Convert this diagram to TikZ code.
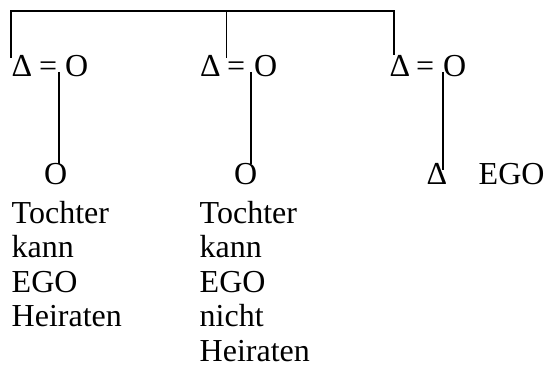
\documentclass[tikz,border=0pt]{standalone}
\usepackage{fontspec}
\setmainfont{Liberation Serif}
\usepackage{tikz}

\begin{document}
\begin{tikzpicture}[x=1pt,y=-1pt,
	sym/.style={inner sep=0pt,anchor=base west,font=\fontsize{32}{34.5}\selectfont},
	txt/.style={sym,anchor=north west,align=left},
	kin/.style={line width=1.2pt}]

	\useasboundingbox (0,0) rectangle (544,371);

	\node[sym] (m1) at (11.5,76.5) {Δ};
	\node[sym] (q1) at (39,76.5) {=};
	\node[sym] (f1) at (65,76.5) {O};
	\node[sym] (m2) at (200,76.5) {Δ};
	\node[sym] (q2) at (227,76.5) {=};
	\node[sym] (f2) at (254,76.5) {O};
	\node[sym] (m3) at (389.5,76.5) {Δ};
	\node[sym] (q3) at (416,76.5) {=};
	\node[sym] (f3) at (443,76.5) {O};

	\node[sym] (c1) at (44,185) {O};
	\node[sym] (c2) at (234,185) {O};
	\node[sym] (c3) at (426.5,185) {Δ};
	\node[sym] (ego) at (478.5,185) {EGO};

	\node[txt] (t1) at (11.5,201) {Tochter\\kann\\EGO\\Heiraten};
	\node[txt] (t2) at (199.5,201) {Tochter\\kann\\EGO\\nicht\\Heiraten};

	\coordinate (top) at (0,11);
	\coordinate (s1) at (11,58);
	\coordinate (s2) at (226.7,58);
	\coordinate (s3) at (394,55);
	\draw[kin] (s1) -- (s1 |- top) -- (s3 |- top) -- (s3);
	\draw[kin] (s2) -- (s2 |- top);

	\coordinate (d1) at (59,72);
	\coordinate (d2) at (251,72);
	\coordinate (d3) at (443,72);
	\coordinate (e3) at (443,170);
	\draw[kin] (d1) -- (c1.north -| d1);
	\draw[kin] (d2) -- (c2.north -| d2);
	\draw[kin] (d3) -- (e3);

\end{tikzpicture}
\end{document}
